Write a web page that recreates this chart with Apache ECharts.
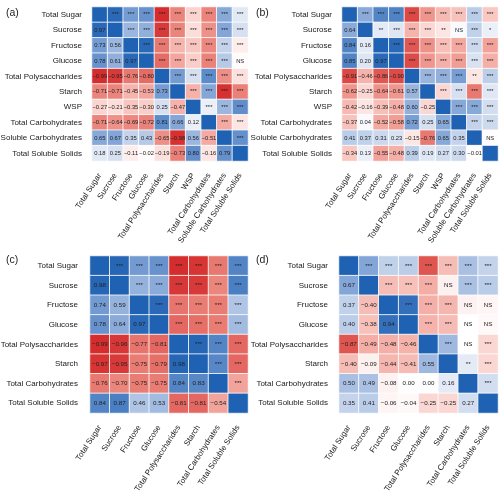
<!DOCTYPE html>
<html><head><meta charset="utf-8">
<script src="https://cdn.jsdelivr.net/npm/echarts@6/dist/echarts.min.js"></script>
<style>html,body{margin:0;padding:0;background:#fff}#c{width:500px;height:494px}</style>
</head><body><div id="c"></div><script>
const varsAB = ['Total Sugar','Sucrose','Fructose','Glucose','Total Polysaccharides','Starch','WSP','Total Carbohydrates','Soluble Carbohydrates','Total Soluble Solids'];
const varsCD = ['Total Sugar','Sucrose','Fructose','Glucose','Total Polysaccharides','Starch','Total Carbohydrates','Total Soluble Solids'];

const lowerA = [
  [],
  [0.97],
  [0.73,0.56],
  [0.78,0.61,0.97],
  [-0.99,-0.95,-0.76,-0.80],
  [-0.71,-0.71,-0.45,-0.53,0.73],
  [-0.27,-0.21,-0.35,-0.30,0.25,-0.47],
  [-0.71,-0.64,-0.69,-0.72,0.81,0.66,0.12],
  [0.65,0.67,0.35,0.43,-0.65,-0.98,0.56,-0.51],
  [0.18,0.25,-0.11,-0.02,-0.19,-0.73,0.80,-0.16,0.79]
];
const sigA = [
  ['***','***','***','***','***','***','***','***','***'],
  ['***','***','***','***','***','***','***','***'],
  ['***','***','***','***','***','***','***'],
  ['***','***','***','***','***','NS'],
  ['***','***','***','***','***'],
  ['***','***','***','***'],
  ['***','***','***'],
  ['***','***'],
  ['***'],
  []
];
const lowerB = [
  [],
  [0.64],
  [0.84,0.16],
  [0.85,0.20,0.97],
  [-0.91,-0.46,-0.86,-0.90],
  [-0.62,-0.25,-0.64,-0.61,0.57],
  [-0.42,-0.16,-0.39,-0.48,0.60,-0.25],
  [-0.37,0.04,-0.52,-0.58,0.72,0.25,0.65],
  [0.41,0.37,0.31,0.23,-0.15,-0.76,0.65,0.35],
  [-0.34,0.13,-0.55,-0.48,0.39,0.19,0.27,0.30,-0.01]
];
const sigB = [
  ['***','***','***','***','***','***','***','***','***'],
  ['**','***','***','***','**','NS','***','*'],
  ['***','***','***','***','***','***','***'],
  ['***','***','***','***','***','***'],
  ['***','***','***','**','***'],
  ['***','***','***','***'],
  ['***','***','***'],
  ['***','***'],
  ['NS'],
  []
];
const lowerC = [
  [],
  [0.98],
  [0.74,0.59],
  [0.78,0.64,0.97],
  [-0.99,-0.96,-0.77,-0.81],
  [-0.97,-0.95,-0.75,-0.79,0.98],
  [-0.76,-0.70,-0.75,-0.75,0.84,0.83],
  [0.84,0.87,0.46,0.53,-0.81,-0.81,-0.54]
];
const sigC = [
  ['***','***','***','***','***','***','***'],
  ['***','***','***','***','***','***'],
  ['***','***','***','***','***'],
  ['***','***','***','***'],
  ['***','***','***'],
  ['***','***'],
  ['***'],
  []
];
const lowerD = [
  [],
  [0.67],
  [0.37,-0.40],
  [0.40,-0.38,0.94],
  [-0.87,-0.49,-0.48,-0.46],
  [-0.40,-0.09,-0.44,-0.41,0.55],
  [0.50,0.49,-0.08,0.00,0.00,0.16],
  [0.35,0.41,-0.06,-0.04,-0.25,-0.25,0.27]
];
const sigD = [
  ['***','***','***','***','***','***','***'],
  ['***','***','***','NS','***','***'],
  ['***','***','***','NS','NS'],
  ['***','***','NS','NS'],
  ['***','NS','***'],
  ['**','***'],
  ['***'],
  []
];

function fmt(v){ return (v < 0 ? '\u2212' : '') + Math.abs(v).toFixed(2); }
function build(lower, sig){
  const n = lower.length, out = [];
  for (let i = 0; i < n; i++) for (let j = 0; j < n; j++) {
    let v, t;
    if (i === j) { v = 1; t = ''; }
    else if (j < i) { v = lower[i][j]; t = fmt(v); }
    else { v = lower[j][i]; t = sig[i][j - i - 1]; }
    out.push({ value: [j, i, v], txt: t });
  }
  return out;
}

const FF = "'Liberation Sans', Arial, sans-serif";
const panels = [
  { name: '(a)', vars: varsAB, data: build(lowerA, sigA), grid: { left: 92, top: 7, width: 156, height: 154 }, fs: 5.8, ym: 10, tx: 1, ty: 3 },
  { name: '(b)', vars: varsAB, data: build(lowerB, sigB), grid: { left: 342, top: 7, width: 156, height: 154 }, fs: 5.8, ym: 10, tx: 251, ty: 3 },
  { name: '(c)', vars: varsCD, data: build(lowerC, sigC), grid: { left: 90, top: 256, width: 158, height: 157 }, fs: 6.2, ym: 12, tx: 1, ty: 250 },
  { name: '(d)', vars: varsCD, data: build(lowerD, sigD), grid: { left: 339, top: 256, width: 159, height: 157 }, fs: 6.2, ym: 11, tx: 251, ty: 250 }
];

const option = {
  animation: false,
  backgroundColor: '#fff',
  title: panels.map(p => ({ text: p.name, left: p.tx, top: p.ty, textStyle: { fontSize: 10.5, fontWeight: 'normal', color: '#222', fontFamily: FF } })),
  grid: panels.map(p => Object.assign({ outerBoundsMode: 'none', containLabel: false }, p.grid)),
  xAxis: panels.map((p, k) => ({
    type: 'category', gridIndex: k, data: p.vars,
    axisLine: { show: false }, axisTick: { show: false }, splitLine: { show: false },
    axisLabel: { interval: 0, rotate: 57, fontSize: 8, color: '#1a1a1a', margin: 13, fontFamily: FF }
  })),
  yAxis: panels.map((p, k) => ({
    type: 'category', gridIndex: k, data: p.vars, inverse: true,
    axisLine: { show: false }, axisTick: { show: false }, splitLine: { show: false },
    axisLabel: { interval: 0, fontSize: 8, color: '#1a1a1a', margin: p.ym, fontFamily: FF }
  })),
  visualMap: {
    type: 'continuous', show: false, min: -1, max: 1, dimension: 2,
    seriesIndex: [0, 1, 2, 3],
    inRange: { color: ['#d42a2a', '#e97c73', '#f4aca4', '#fad7d2', '#ffffff', '#d6e0f1', '#a9c0e3', '#7199d1', '#1f62b3'] }
  },
  series: panels.map((p, k) => ({
    type: 'heatmap', xAxisIndex: k, yAxisIndex: k, data: p.data,
    itemStyle: { borderColor: '#ffffff', borderWidth: 0.8 },
    label: { show: true, fontSize: p.fs, color: '#222', fontFamily: FF, formatter: q => q.data.txt },
    emphasis: { disabled: true }
  }))
};
const chart = echarts.init(document.getElementById('c'), null, { renderer: 'canvas' });
chart.setOption(option);
</script></body></html>
